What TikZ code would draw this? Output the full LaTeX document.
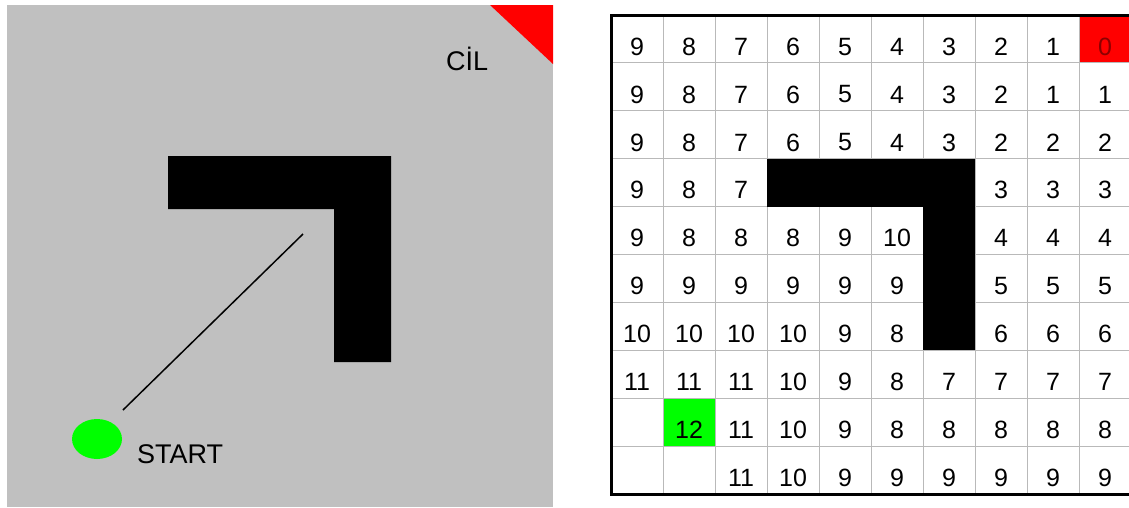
\documentclass[tikz,border=0pt]{standalone}
\usepackage{fontspec}
\setmainfont{Liberation Sans}
\usepackage{tikz}
\usetikzlibrary{shapes.geometric}

\definecolor{panelgray}{RGB}{192,192,192}
\definecolor{goalred}{RGB}{255,0,0}
\definecolor{startgreen}{RGB}{0,255,0}
\definecolor{gridgray}{RGB}{185,185,185}
\definecolor{zerored}{RGB}{140,0,0}

\tikzset{
  cellnum/.style={font=\fontsize{25}{25}\selectfont, inner sep=0pt},
  labeltext/.style={font=\fontsize{27}{27}\selectfont, inner sep=0pt},
  wall/.style={fill=black},
  gridline/.style={draw=gridgray, line width=1pt},
}

\begin{document}
\begin{tikzpicture}[x=1pt,y=-1pt]
\useasboundingbox[fill=white] (0,0) rectangle (1129,507);

% left panel
\fill[panelgray] (7,5) rectangle (553,507);
\fill[goalred] (490,5) -- (553,5) -- (553,64) -- cycle;
\fill[wall] (168,156) -- (391,156) -- (391,362) -- (334,362) -- (334,209) -- (168,209) -- cycle;
\node[ellipse, fill=startgreen, minimum width=50pt, minimum height=40pt, inner sep=0pt] (start) at (97,439) {};
\node[labeltext, anchor=base west] (startlabel) at (137,463) {START};
\node[labeltext, anchor=base west] (goallabel) at (446,70) {CİL};
\coordinate (pathA) at (123,410);
\coordinate (pathB) at (303,234);
\draw[line width=1.5pt] (pathA) -- (pathB);

% right panel
\begin{scope}[shift={(611,15)}, x=52pt, y=-47.9pt]
\fill[goalred] (9,0) rectangle (10,1);
\fill[startgreen] (1,8) rectangle (2,9);
\foreach \i in {1,...,9} {
  \draw[gridline] (\i,0) -- (\i,10);
  \draw[gridline] (0,\i) -- (10,\i);
}
\fill[wall] (3,3) rectangle (7,4);
\fill[wall] (6,4) rectangle (7,7);
\draw[line width=3pt] (0,0) rectangle (10,10);

\foreach \row [count=\r from 0] in {
  {9,8,7,6,5,4,3,2,1,},
  {9,8,7,6,5,4,3,2,1,1},
  {9,8,7,6,5,4,3,2,2,2},
  {9,8,7,,,,,3,3,3},
  {9,8,8,8,9,10,,4,4,4},
  {9,9,9,9,9,9,,5,5,5},
  {10,10,10,10,9,8,,6,6,6},
  {11,11,11,10,9,8,7,7,7,7},
  {,12,11,10,9,8,8,8,8,8},
  {,,11,10,9,9,9,9,9,9}} {
  \foreach \v [count=\c from 0] in \row {
    \node[cellnum] (cell-\r-\c) at (\c+0.5,\r+0.66) {\v};
  }
}
\node[cellnum, text=zerored] (goalcell) at (9.5,0.66) {0};
\end{scope}

\end{tikzpicture}
\end{document}
